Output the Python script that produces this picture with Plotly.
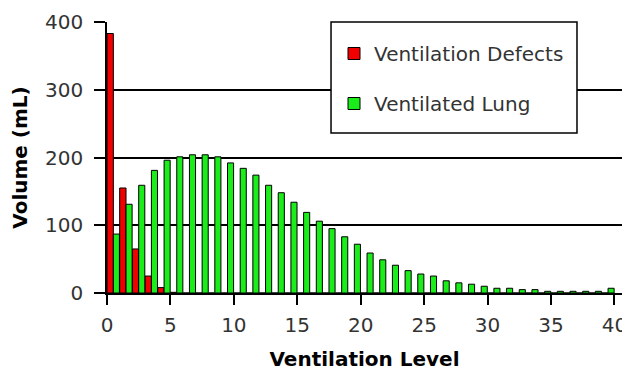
import plotly.graph_objects as go

levels = list(range(40))
x_tick_vals = [0, 5, 10, 15, 20, 25, 30, 35, 40]
y_tick_vals = [0, 100, 200, 300, 400]

defects = [383, 155, 65, 25, 8, 1] + [0] * 34
ventilated = [87, 131, 159, 181, 196, 201, 204, 204, 201, 192,
              184, 174, 159, 148, 134, 119, 106, 95, 83, 72,
              59, 49, 41, 33, 28, 25, 18, 15, 13, 10,
              7, 7, 5, 5, 2.5, 2.5, 2.5, 2.5, 2.5, 7]

fig = go.Figure()
fig.add_trace(go.Bar(
    x=levels, y=defects, name="Ventilation Defects",
    width=0.5, offset=0.0,
    marker=dict(color="#f00000", line=dict(color="black", width=1)),
    legendgroup="a",
))
fig.add_trace(go.Bar(
    x=levels, y=ventilated, name="Ventilated Lung",
    width=0.48, offset=0.5,
    marker=dict(color="#1aed1a", line=dict(color="black", width=1)),
    legendgroup="b",
))

font_family = "DejaVu Sans, Liberation Sans, Arial, sans-serif"

# legend frame
fig.add_shape(type="rect", xref="paper", yref="paper",
              x0=0.435, x1=0.9126, y0=0.590, y1=1.0,
              fillcolor="white", line=dict(color="black", width=1.5),
              layer="above")

# page body adds an 8px offset, so the figure is 8px smaller
fig.update_layout(
    width=622, height=363,
    margin=dict(l=99, r=8, t=14, b=78),
    paper_bgcolor="white", plot_bgcolor="white",
    barmode="overlay",
    font=dict(family=font_family, size=20, color="#333333"),
    showlegend=True,
    legend=dict(
        x=0.4408, y=0.9557, xanchor="left", yanchor="top",
        bgcolor="rgba(0,0,0,0)", borderwidth=0,
        font=dict(family=font_family, size=20, color="#333333"),
        traceorder="grouped", tracegroupgap=21,
    ),
    xaxis=dict(
        range=[0, 40.6], tickvals=x_tick_vals,
        ticks="outside", ticklen=10, tickwidth=1.5, tickcolor="black",
        showline=True, linecolor="black", linewidth=1.5,
        showgrid=False, zeroline=False, automargin=False,
        ticklabelstandoff=3,
        title=dict(text="<b>Ventilation Level</b>", standoff=16,
                   font=dict(family=font_family, size=20, color="black")),
    ),
    yaxis=dict(
        range=[0, 400], tickvals=y_tick_vals,
        ticks="outside", ticklen=11, tickwidth=1.5, tickcolor="black",
        showline=True, linecolor="black", linewidth=1.5,
        showgrid=True, gridcolor="black", gridwidth=1.5,
        zeroline=False, automargin=False,
        ticklabelstandoff=7,
        title=dict(text="<b>Volume (mL)</b>", standoff=17,
                   font=dict(family=font_family, size=20, color="black")),
    ),
)

fig.write_html("out.html")
